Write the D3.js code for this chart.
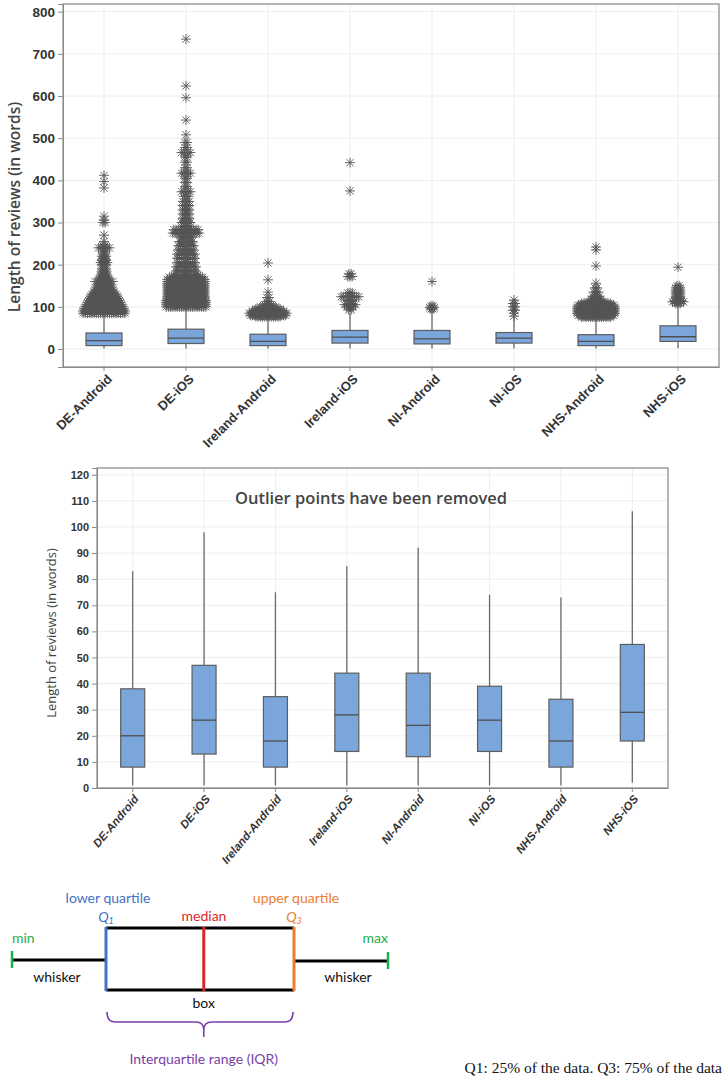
<!DOCTYPE html>
<html>
<head>
<meta charset="utf-8">
<script src="https://cdn.jsdelivr.net/npm/d3@7"></script>
<style>
  body { margin: 0; background: #fff; }
  svg { display: block; font-family: "Open Sans", "DejaVu Sans", sans-serif; }
</style>
</head>
<body>
<svg id="chart" width="725" height="1083"></svg>
<script>
// review length per app / platform (words)
const categories = ['DE-Android', 'DE-iOS', 'Ireland-Android', 'Ireland-iOS', 'NI-Android', 'NI-iOS', 'NHS-Android', 'NHS-iOS'];
const whiskerLow = [1, 1, 1, 1, 1, 1, 1, 2];
const q1 = [8, 13, 8, 14, 12, 14, 8, 18];
const median = [20, 26, 18, 28, 24, 26, 18, 29];
const q3 = [38, 47, 35, 44, 44, 39, 34, 55];
const whiskerHigh = [83, 98, 75, 85, 92, 74, 73, 106];

// outliers as [length, number of reviews at that length]
const outDEAndroid = [[85, 20], [90, 20], [95, 19], [100, 18], [105, 17], [110, 16], [115, 15], [120, 14], [125, 13], [130, 12],
  [135, 10], [140, 9], [145, 8], [150, 7], [155, 6], [160, 9], [165, 5], [170, 4], [175, 4], [180, 3], [185, 3], [190, 3],
  [200, 3], [205, 4], [210, 3], [215, 2], [220, 3], [225, 2], [230, 2], [240, 6], [245, 2], [255, 1], [270, 1], [300, 2],
  [305, 1], [315, 1], [382, 1], [397, 1], [412, 1]];
const outDEiOS = [[100, 19], [105, 19], [110, 19], [115, 19], [120, 18], [125, 18], [130, 18], [135, 18], [140, 18], [145, 18],
  [150, 18], [155, 18], [160, 18], [165, 18], [170, 16], [175, 12], [185, 10], [195, 10], [205, 9], [215, 9], [225, 9],
  [235, 8], [245, 8], [255, 7], [265, 6], [275, 13], [283, 12], [290, 5], [300, 5], [310, 4], [320, 4], [330, 4], [340, 4],
  [350, 4], [362, 3], [373, 5], [385, 2], [395, 2], [405, 2], [417, 5], [430, 2], [443, 2], [455, 2], [466, 5], [478, 2],
  [490, 2], [508, 1], [543, 1], [596, 1], [624, 1], [735, 1]];
const outIrelandAndroid = [[77, 12], [80, 17], [85, 18], [90, 15], [95, 12], [100, 8], [105, 4], [112, 2], [122, 2], [135, 1], [164, 1], [204, 1]];
const outIrelandiOS = [[93, 2], [100, 4], [105, 6], [115, 3], [124, 9], [133, 3], [172, 3], [178, 2], [375, 1], [442, 1]];
const outNIAndroid = [[95, 2], [98, 3], [102, 2], [160, 1]];
const outNIiOS = [[78, 1], [85, 1], [92, 2], [100, 2], [108, 2], [116, 1]];
const outNHSAndroid = [[76, 14], [80, 17], [84, 18], [88, 18], [92, 18], [96, 18], [100, 18], [104, 17], [108, 14], [112, 8],
  [118, 5], [125, 4], [135, 3], [145, 2], [156, 1], [197, 1], [235, 1], [242, 1]];
const outNHSiOS = [[108, 3], [112, 6], [115, 4], [120, 3], [125, 3], [130, 3], [135, 3], [140, 3], [145, 3], [150, 2], [194, 1]];
const outliers = [outDEAndroid, outDEiOS, outIrelandAndroid, outIrelandiOS, outNIAndroid, outNIiOS, outNHSAndroid, outNHSiOS];

const topTicks = [0, 100, 200, 300, 400, 500, 600, 700, 800];
const bottomTicks = [0, 10, 20, 30, 40, 50, 60, 70, 80, 90, 100, 110, 120];

// illustrative box-plot legend (percent along the box)
const legendStops = [0, 25, 51, 75, 100];

const svg = d3.select('#chart');
const boxFill = '#7aa6dc';
const lineCol = '#5a5a5a';

function starPath(r) {
  const d = r * 0.72;
  return `M0,${-r}V${r}M${-r},0H${r}M${-d},${-d}L${d},${d}M${-d},${d}L${d},${-d}`;
}

function drawPanel(cfg) {
  const g = svg.append('g');
  const x = d3.scaleBand().domain(categories).range([cfg.left, cfg.right]);
  const y = d3.scaleLinear().domain(cfg.domain).range([cfg.bottom, cfg.top]);
  const cx = c => x(c) + x.bandwidth() / 2;

  // grid
  g.append('g').selectAll('line.h').data(cfg.ticks).join('line')
    .attr('x1', cfg.left).attr('x2', cfg.right)
    .attr('y1', d => y(d)).attr('y2', d => y(d))
    .attr('stroke', '#eeeeee').attr('stroke-width', 1);
  g.append('g').selectAll('line.v').data(categories).join('line')
    .attr('x1', cx).attr('x2', cx)
    .attr('y1', cfg.top).attr('y2', cfg.bottom)
    .attr('stroke', '#eeeeee').attr('stroke-width', 1);

  // frame
  g.append('rect')
    .attr('x', cfg.left).attr('y', cfg.top)
    .attr('width', cfg.right - cfg.left).attr('height', cfg.bottom - cfg.top)
    .attr('fill', 'none').attr('stroke', '#a3a3a3').attr('stroke-width', 1.6);

  // axes
  const yAxis = g.append('g').attr('transform', `translate(${cfg.left},0)`)
    .call(d3.axisLeft(y).tickValues(cfg.ticks).tickSize(5).tickPadding(3));
  yAxis.select('.domain').attr('stroke', '#8a8a8a');
  yAxis.selectAll('line').attr('stroke', '#8a8a8a');
  yAxis.selectAll('text').attr('font-size', cfg.yTickSize).attr('font-weight', 600).attr('fill', '#333');

  const xAxis = g.append('g').attr('transform', `translate(0,${cfg.bottom})`)
    .call(d3.axisBottom(x).tickSize(4).tickSizeOuter(0));
  xAxis.select('.domain').attr('stroke', '#8a8a8a');
  xAxis.selectAll('line').attr('stroke', '#8a8a8a');
  xAxis.selectAll('text')
    .attr('font-size', cfg.xTickSize).attr('font-weight', 600).attr('fill', '#333')
    .attr('font-style', cfg.italic ? 'italic' : 'normal')
    .attr('text-anchor', 'end')
    .attr('dy', '0.3em')
    .attr('transform', `translate(${cfg.xlabDx},${cfg.xlabDy}) rotate(${cfg.rot})`)
    .attr('y', 0).attr('x', 0);

  // y label
  g.append('text')
    .attr('transform', `translate(${cfg.ylabX},${cfg.ylabY}) rotate(-90)`)
    .attr('text-anchor', 'middle')
    .attr('font-size', cfg.ylabSize).attr('font-weight', cfg.ylabWeight).attr('fill', '#444')
    .text('Length of reviews (in words)');

  // whiskers
  const bw = cfg.boxWidth;
  g.append('g').selectAll('line').data(categories).join('line')
    .attr('x1', cx).attr('x2', cx)
    .attr('y1', (c, i) => y(whiskerLow[i])).attr('y2', (c, i) => y(whiskerHigh[i]))
    .attr('stroke', '#6a6a6a').attr('stroke-width', 1.3);

  // outliers
  if (cfg.outliers) {
    const pts = [];
    outliers.forEach((list, i) => {
      list.forEach(([v, n]) => {
        for (let k = 0; k < n; k++) pts.push({ c: categories[i], v, off: (k - (n - 1) / 2) * 2.2 });
      });
    });
    g.append('g').selectAll('path').data(pts).join('path')
      .attr('transform', d => `translate(${cx(d.c) + d.off},${y(d.v)})`)
      .attr('d', starPath(5))
      .attr('fill', 'none').attr('stroke', '#555').attr('stroke-width', 0.9);
  }

  // boxes
  g.append('g').selectAll('rect').data(categories).join('rect')
    .attr('x', c => cx(c) - bw / 2).attr('width', bw)
    .attr('y', (c, i) => y(q3[i])).attr('height', (c, i) => y(q1[i]) - y(q3[i]))
    .attr('fill', boxFill).attr('stroke', '#5d5d5d').attr('stroke-width', 1.2);
  g.append('g').selectAll('line').data(categories).join('line')
    .attr('x1', c => cx(c) - bw / 2).attr('x2', c => cx(c) + bw / 2)
    .attr('y1', (c, i) => y(median[i])).attr('y2', (c, i) => y(median[i]))
    .attr('stroke', '#4d4d4d').attr('stroke-width', 1.3);

  return g;
}

drawPanel({
  left: 63, right: 719, top: 4, bottom: 367, domain: [-42.7, 818.3],
  ticks: topTicks, yTickSize: 13.5, xTickSize: 13, rot: -45, xlabDx: 6, xlabDy: 10, italic: false,
  ylabX: 20, ylabY: 207, ylabSize: 15.5, ylabWeight: 600, boxWidth: 36, outliers: true
});

const bottomPanel = drawPanel({
  left: 97, right: 668, top: 468, bottom: 788, domain: [0, 122.6],
  ticks: bottomTicks, yTickSize: 11, xTickSize: 11.5, rot: -50, xlabDx: 4, xlabDy: 9, italic: true,
  ylabX: 56, ylabY: 633, ylabSize: 13, ylabWeight: 500, boxWidth: 24, outliers: false
});
bottomPanel.append('text')
  .attr('x', 371).attr('y', 504).attr('text-anchor', 'middle')
  .attr('font-size', 16.5).attr('font-weight', 600).attr('fill', '#444')
  .text('Outlier points have been removed');

// legend diagram
const lg = svg.append('g').attr('font-family', 'Lato, "Open Sans", sans-serif');
const lx = d3.scaleLinear().domain([0, 100]).range([12, 388]);
const [pMin, pQ1, pMed, pQ3, pMax] = legendStops.map(lx);
const boxTop = 928, boxBot = 990, mid = 960;
const blue = '#4472c4', red = '#d9262b', orange = '#ed7d31', green = '#1fae4b', purple = '#7a3fa6';

lg.append('line').attr('x1', pMin).attr('x2', pQ1).attr('y1', mid).attr('y2', mid).attr('stroke', '#000').attr('stroke-width', 3);
lg.append('line').attr('x1', pQ3).attr('x2', pMax).attr('y1', mid + 1).attr('y2', mid + 1).attr('stroke', '#000').attr('stroke-width', 3);
lg.append('line').attr('x1', pQ1).attr('x2', pQ3).attr('y1', boxTop).attr('y2', boxTop).attr('stroke', '#000').attr('stroke-width', 3);
lg.append('line').attr('x1', pQ1).attr('x2', pQ3).attr('y1', boxBot).attr('y2', boxBot).attr('stroke', '#000').attr('stroke-width', 3);
lg.append('line').attr('x1', pQ1).attr('x2', pQ1).attr('y1', boxTop - 1).attr('y2', boxBot + 1).attr('stroke', blue).attr('stroke-width', 3);
lg.append('line').attr('x1', pMed).attr('x2', pMed).attr('y1', boxTop - 1).attr('y2', boxBot + 1).attr('stroke', red).attr('stroke-width', 3);
lg.append('line').attr('x1', pQ3).attr('x2', pQ3).attr('y1', boxTop - 1).attr('y2', boxBot + 1).attr('stroke', orange).attr('stroke-width', 3);
lg.append('line').attr('x1', pMin).attr('x2', pMin).attr('y1', mid - 9).attr('y2', mid + 8).attr('stroke', green).attr('stroke-width', 2.5);
lg.append('line').attr('x1', pMax).attr('x2', pMax).attr('y1', mid - 8).attr('y2', mid + 9).attr('stroke', green).attr('stroke-width', 2.5);

const lbl = (x, y, t, col, anchor = 'middle', extra) => {
  const el = lg.append('text').attr('x', x).attr('y', y).attr('text-anchor', anchor)
    .attr('font-size', 14).attr('fill', col).text(t);
  if (extra) extra(el);
  return el;
};
lbl(108, 903, 'lower quartile', blue);
lbl(296, 903, 'upper quartile', orange);
lbl(204, 921, 'median', red);
lbl(pQ1, 922, '', blue, 'middle', el => {
  el.attr('font-style', 'italic');
  el.append('tspan').text('Q');
  el.append('tspan').attr('font-size', 9).attr('dy', 2).text('1');
});
lbl(pQ3, 922, '', orange, 'middle', el => {
  el.attr('font-style', 'italic');
  el.append('tspan').text('Q');
  el.append('tspan').attr('font-size', 9).attr('dy', 2).text('3');
});
lbl(12, 943, 'min', green, 'start');
lbl(388, 943, 'max', green, 'end');
lbl(57, 982, 'whisker', '#111');
lbl(348, 982, 'whisker', '#111');
lbl(pMed, 1008, 'box', '#111');
lbl(pMed, 1064, 'Interquartile range (IQR)', purple);

const braceY = 1022;
lg.append('path')
  .attr('d', `M${pQ1 + 1},${braceY - 10} Q${pQ1 + 1},${braceY} ${pQ1 + 9},${braceY} H${pMed - 8} Q${pMed},${braceY} ${pMed},${braceY + 8} V${braceY + 15}
              M${pQ3 - 1},${braceY - 10} Q${pQ3 - 1},${braceY} ${pQ3 - 9},${braceY} H${pMed + 8} Q${pMed},${braceY} ${pMed},${braceY + 8}`)
  .attr('fill', 'none').attr('stroke', purple).attr('stroke-width', 1.6);

svg.append('text')
  .attr('x', 722).attr('y', 1073).attr('text-anchor', 'end')
  .attr('font-family', '"Liberation Serif", "DejaVu Serif", serif')
  .attr('font-size', 15.5).attr('fill', '#111')
  .text('Q1: 25% of the data. Q3: 75% of the data');
</script>
</body>
</html>
